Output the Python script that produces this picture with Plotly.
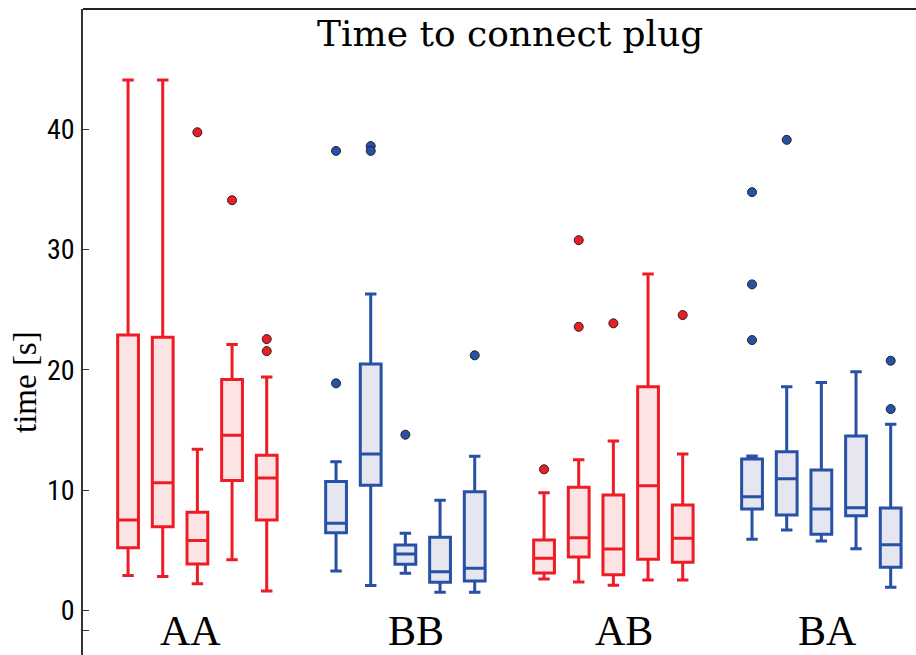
import plotly.graph_objects as go

# ---- data (seconds) ----
groups = ["AA", "BB", "AB", "BA"]
group_label_x = [1.79, 8.3, 14.3, 20.18]
positions = [0, 1, 2, 3, 4, 6, 7, 8, 9, 10, 12, 13, 14, 15, 16, 18, 19, 20, 21, 22]
group_of_box = ["AA"] * 5 + ["BB"] * 5 + ["AB"] * 5 + ["BA"] * 5

lower = [2.9, 2.8, 2.2, 4.2, 1.6,
         3.27, 2.05, 3.07, 1.5, 1.5,
         2.6, 2.35, 2.08, 2.52, 2.52,
         5.9, 6.67, 5.76, 5.12, 1.91]
q1 = [5.2, 6.95, 3.85, 10.8, 7.5,
      6.45, 10.4, 3.82, 2.33, 2.44,
      3.1, 4.43, 2.96, 4.24, 3.99,
      8.42, 7.92, 6.32, 7.86, 3.57]
median = [7.5, 10.6, 5.8, 14.55, 11.0,
          7.23, 13.0, 4.68, 3.21, 3.49,
          4.32, 6.04, 5.1, 10.36, 5.98,
          9.44, 10.94, 8.42, 8.53, 5.45]
q3 = [22.9, 22.7, 8.15, 19.2, 12.9,
      10.7, 20.47, 5.43, 6.07, 9.86,
      5.84, 10.22, 9.58, 18.59, 8.75,
      12.58, 13.18, 11.66, 14.49, 8.5]
upper = [44.1, 44.1, 13.4, 22.1, 19.4,
         12.35, 26.3, 6.4, 9.14, 12.8,
         9.78, 12.52, 14.07, 27.96, 13.0,
         12.83, 18.59, 18.95, 19.84, 15.46]
outliers = [[], [], [39.75], [34.1], [22.55, 21.55],
            [38.2, 18.87], [38.6, 38.2], [14.6], [], [21.2],
            [11.72], [30.78, 23.57], [23.86], [], [24.55],
            [34.77, 27.1, 22.47], [39.12], [], [], [20.75, 16.73]]

y_ticks = [0, 10, 20, 30, 40]

# ---- styles ----
RED, RED_FILL = "#ee1c25", "#fce4e4"
BLUE, BLUE_FILL = "#2651a6", "#e6e6f1"
color_of = {"AA": (RED, RED_FILL), "AB": (RED, RED_FILL),
            "BB": (BLUE, BLUE_FILL), "BA": (BLUE, BLUE_FILL)}
SERIF = "Liberation Serif, DejaVu Serif, serif"

fig = go.Figure()
for g in groups:
    idx = [i for i, gg in enumerate(group_of_box) if gg == g]
    line_c, fill_c = color_of[g]
    fig.add_trace(go.Box(
        x=[positions[i] for i in idx],
        q1=[q1[i] for i in idx], median=[median[i] for i in idx],
        q3=[q3[i] for i in idx], lowerfence=[lower[i] for i in idx],
        upperfence=[upper[i] for i in idx],
        width=0.6, whiskerwidth=0.55,
        line=dict(color=line_c, width=3), fillcolor=fill_c,
        boxpoints=False, showlegend=False, hoverinfo="skip"))
    ox, oy = [], []
    for i in idx:
        for v in outliers[i]:
            ox.append(positions[i]); oy.append(v)
    fig.add_trace(go.Scatter(
        x=ox, y=oy, mode="markers", showlegend=False,
        marker=dict(color=line_c, size=9, line=dict(color="#222222", width=1))))

for g, gx in zip(groups, group_label_x):
    fig.add_annotation(x=gx, y=-1.72, text=g, showarrow=False,
                       xanchor="center", yanchor="middle",
                       font=dict(family=SERIF, size=42, color="black"))

fig.add_annotation(xref="paper", yref="paper", x=0.5126, y=1, yshift=-2,
                   text="Time to connect plug", showarrow=False,
                   xanchor="center", yanchor="top",
                   font=dict(family="DejaVu Serif, serif", size=36, color="black"))
fig.add_annotation(xref="paper", yref="paper", x=-0.0696, y=0.4226,
                   text="time [s]", showarrow=False, textangle=-90,
                   xanchor="center", yanchor="middle",
                   font=dict(family=SERIF, size=33, color="black"))

fig.add_shape(type="line", xref="paper", yref="paper", x0=0, x1=1, y0=1, y1=1,
              line=dict(color="#222222", width=1.8))

fig.update_layout(
    width=916, height=655, margin=dict(l=83, r=0, t=9, b=0),
    paper_bgcolor="white", plot_bgcolor="white", boxmode="overlay",
    xaxis=dict(range=[-1.3, 22.73], showgrid=False, zeroline=False,
               showticklabels=False, ticks="", showline=False),
    yaxis=dict(range=[-3.72, 50.0], showgrid=False, zeroline=False,
               showline=True, linecolor="#333333", linewidth=1.5,
               ticks="inside", ticklen=6, tickcolor="#333333",
               tickvals=y_ticks + [-1.72], ticktext=[str(v) for v in y_ticks] + [""],
               tickfont=dict(family="Liberation Sans Narrow, Roboto Condensed, Roboto, sans-serif",
                             size=28, color="black"),
               ticklabelstandoff=1),
)
fig.write_html("out.html")
